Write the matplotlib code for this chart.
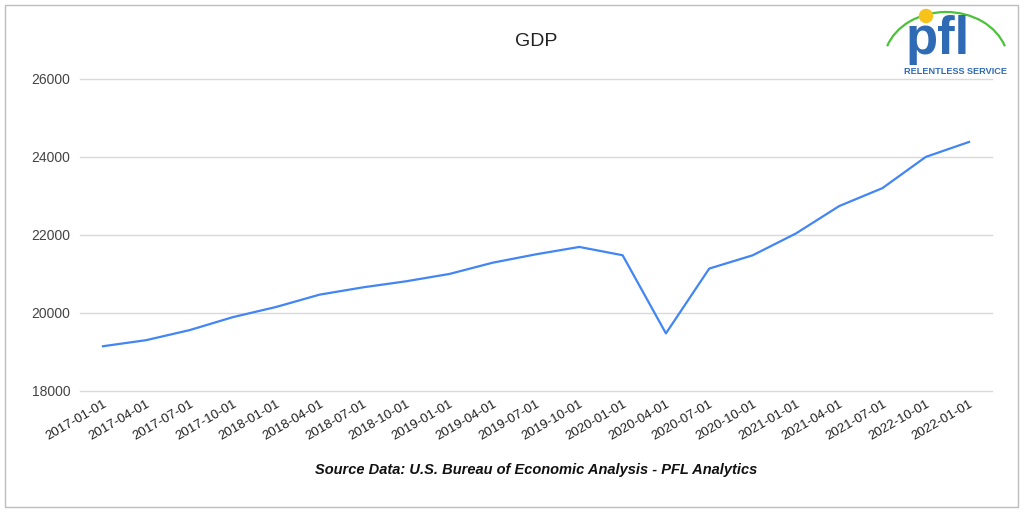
import matplotlib
matplotlib.use("Agg")
import matplotlib.pyplot as plt
from matplotlib.patches import Rectangle, Circle, Arc

plt.rcParams['font.family'] = ['Liberation Sans', 'DejaVu Sans']

dates = ["2017-01-01", "2017-04-01", "2017-07-01", "2017-10-01", "2018-01-01",
         "2018-04-01", "2018-07-01", "2018-10-01", "2019-01-01", "2019-04-01",
         "2019-07-01", "2019-10-01", "2020-01-01", "2020-04-01", "2020-07-01",
         "2020-10-01", "2021-01-01", "2021-04-01", "2021-07-01", "2022-10-01",
         "2022-01-01"]
gdp = [19148, 19304, 19561, 19894, 20155, 20470, 20657, 20813, 21001, 21290,
       21505, 21694, 21481, 19477, 21139, 21478, 22038, 22741, 23202, 24002,
       24386]
yticks = [18000, 20000, 22000, 24000, 26000]

W, H = 1024, 512
fig = plt.figure(figsize=(W / 100, H / 100), dpi=100)
fig.patch.set_facecolor("white")

# outer frame
fig.add_artist(Rectangle((5 / W, 5 / H), (1018 - 5) / W, (507 - 5) / H,
                         transform=fig.transFigure, fill=False,
                         edgecolor="#bdbdbd", linewidth=1.0))

ax = fig.add_axes([80 / W, 1 - 391 / H, (992 - 80) / W, (391 - 79) / H])
x = list(range(len(dates)))
ax.plot(x, gdp, color="#4285F4", linewidth=1.6, solid_joinstyle="round",
        zorder=3)
ax.set_xlim(-0.53, len(dates) - 1 + 0.53)
ax.set_ylim(18000, 26000)
ax.set_yticks(yticks)
ax.set_yticklabels([str(v) for v in yticks], fontsize=10, color="#444444")
ax.set_xticks(x)
ax.set_xticklabels(dates, rotation=30, ha="right", rotation_mode="anchor",
                   fontsize=9.5, color="#222222")
ax.tick_params(axis="both", length=0, pad=7)
ax.tick_params(axis="x", pad=5)
for v in yticks:
    ax.axhline(v, color="#d9d9d9", linewidth=1.0, zorder=1, clip_on=False)
for s in ax.spines.values():
    s.set_visible(False)

fig.text(536 / W, 1 - 42 / H, "GDP", ha="center", va="center", fontsize=14,
         color="#222222")
fig.text(536 / W, 1 - 470 / H,
         "Source Data: U.S. Bureau of Economic Analysis - PFL Analytics",
         ha="center", va="center", fontsize=10.5, fontweight="bold",
         fontstyle="italic", color="#111111")

# logo (approximation)
lax = fig.add_axes([880 / W, 1 - 80 / H, 140 / W, 75 / H])
lax.set_xlim(880, 1020)
lax.set_ylim(80, 5)
lax.axis("off")
lax.add_patch(Arc((946, 62), 124, 100, theta1=195, theta2=345,
                  color="#4CC23A", linewidth=1.6))
lax.text(938, 65, "pfl", ha="center", va="bottom", fontsize=38,
         fontweight="bold", color="#2F6BB5")
lax.add_patch(Circle((926, 16), 6.5, color="#F7C21A", zorder=3))
lax.text(956, 72, "RELENTLESS SERVICE", ha="center", va="center",
         fontsize=6.6, fontweight="bold", color="#2F6BB5")

fig.savefig("out.png", dpi=100, facecolor="white")
